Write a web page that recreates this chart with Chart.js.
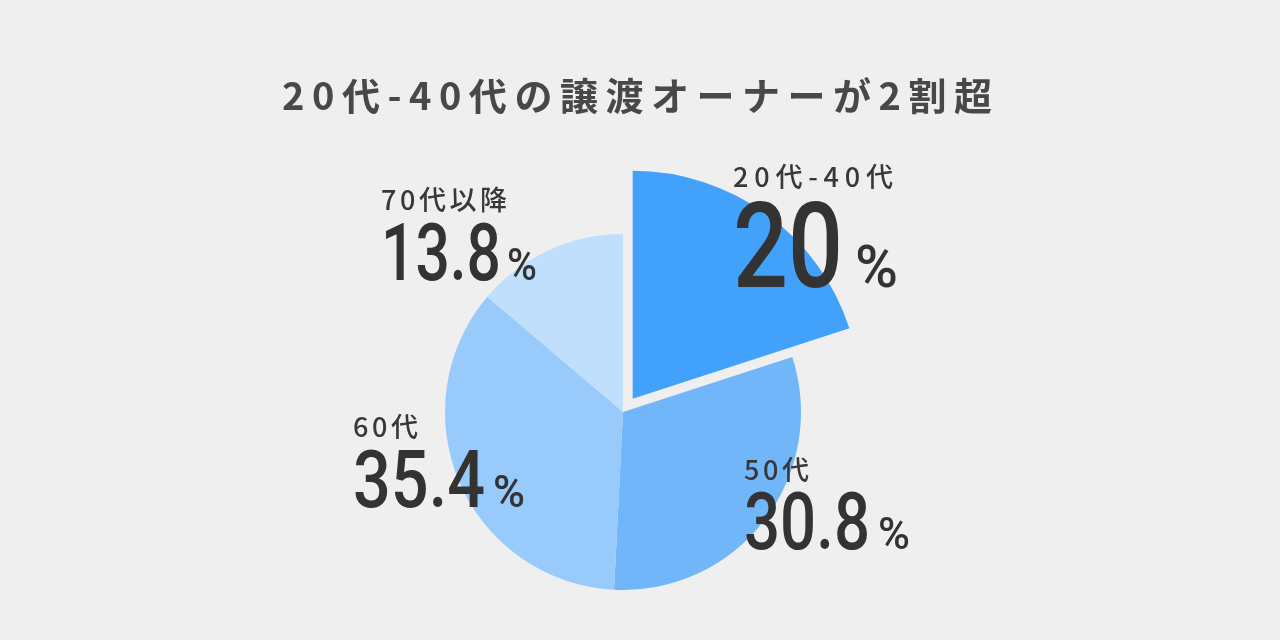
<!DOCTYPE html>
<html lang="ja">
<head>
<meta charset="utf-8">
<title>20代-40代の譲渡オーナーが2割超</title>
<script src="https://cdn.jsdelivr.net/npm/chart.js@4/dist/chart.umd.min.js"></script>
<style>
  html, body { margin: 0; padding: 0; background: #efefef; }
  #wrap { width: 1280px; height: 640px; position: relative; }
</style>
</head>
<body>
<div id="wrap"><canvas id="ownerChart"></canvas></div>
<script>
const titleText = '20代-40代の譲渡オーナーが2割超';
const categories = ['20代-40代', '50代', '60代', '70代以降'];
const shares = [20, 30.8, 35.4, 13.8];
const sliceColors = ['#42a2fb', '#70b6f9', '#98cafb', '#bfdffd'];

// where each label block sits (left edge, baselines) and how wide its pieces are
const labelLayout = [
    { x: 733, nameY: 187, nameW: 160, numY: 287, numW: 110, numSize: 118, pctX: 855, pctW: 43, pctSize: 60 },
    { x: 744, nameY: 480, nameW: 65,  numY: 549, numW: 126, numSize: 80,  pctX: 878, pctW: 32, pctSize: 45 },
    { x: 353, nameY: 437, nameW: 65,  numY: 507, numW: 132, numSize: 80,  pctX: 493, pctW: 32, pctSize: 45 },
    { x: 381, nameY: 210, nameW: 126, numY: 280, numW: 120, numSize: 80,  pctX: 507, pctW: 30, pctSize: 45 }
];

const JP = '"Noto Sans CJK JP", "Noto Sans", sans-serif';
const NUM = 'Roboto, "Noto Sans", sans-serif';

// draw text so that it spans roughly `width` pixels from x
function fitText(ctx, text, x, y, width) {
    ctx.letterSpacing = '0px';
    const w = ctx.measureText(text).width;
    const n = [...text].length;
    if (w > width || n < 2) {
        ctx.fillText(text, x, y, width);
    } else {
        ctx.letterSpacing = ((width - w) / (n - 1)) + 'px';
        ctx.fillText(text, x, y);
        ctx.letterSpacing = '0px';
    }
}

const popOut = {
    id: 'popOut',
    afterDatasetUpdate(chart, args) {
        const el = args.meta.data[0];
        if (!el) return;
        const mid = (el.startAngle + el.endAngle) / 2;
        el.x += Math.cos(mid) * 16.5;
        el.y += Math.sin(mid) * 16.5;
        el.outerRadius = el.outerRadius * 1.28;
    }
};

const decorations = {
    id: 'decorations',
    beforeDraw(chart) {
        const ctx = chart.ctx;
        ctx.save();
        ctx.fillStyle = '#efefef';
        ctx.fillRect(0, 0, chart.width, chart.height);
        ctx.restore();
    },
    afterDraw(chart) {
        const ctx = chart.ctx;
        ctx.save();
        ctx.textAlign = 'left';
        ctx.textBaseline = 'alphabetic';

        ctx.fillStyle = '#484848';
        ctx.font = 'bold 38px ' + JP;
        fitText(ctx, titleText, 282, 110, 710);

        categories.forEach((name, i) => {
            const l = labelLayout[i];
            ctx.fillStyle = '#383838';
            ctx.font = '500 27px ' + JP;
            fitText(ctx, name, l.x, l.nameY, l.nameW);

            ctx.fillStyle = '#333333';
            ctx.font = '500 ' + l.numSize + 'px ' + NUM;
            fitText(ctx, String(shares[i]), l.x, l.numY, l.numW);

            ctx.font = '500 ' + l.pctSize + 'px ' + NUM;
            fitText(ctx, '%', l.pctX, l.numY, l.pctW);
        });
        ctx.restore();
    }
};

const ctx = document.getElementById('ownerChart').getContext('2d');
const ownerChart = new Chart(ctx, {
    type: 'pie',
    data: {
        labels: categories,
        datasets: [{
            data: shares,
            backgroundColor: sliceColors,
            borderWidth: 0,
            radius: 178
        }]
    },
    options: {
        responsive: true,
        maintainAspectRatio: false,
        animation: false,
        events: [],
        layout: {
            padding: { top: 200, bottom: 16, left: 100, right: 134 }
        },
        plugins: {
            legend: { display: false },
            tooltip: { enabled: false }
        }
    },
    plugins: [popOut, decorations]
});
</script>
</body>
</html>
